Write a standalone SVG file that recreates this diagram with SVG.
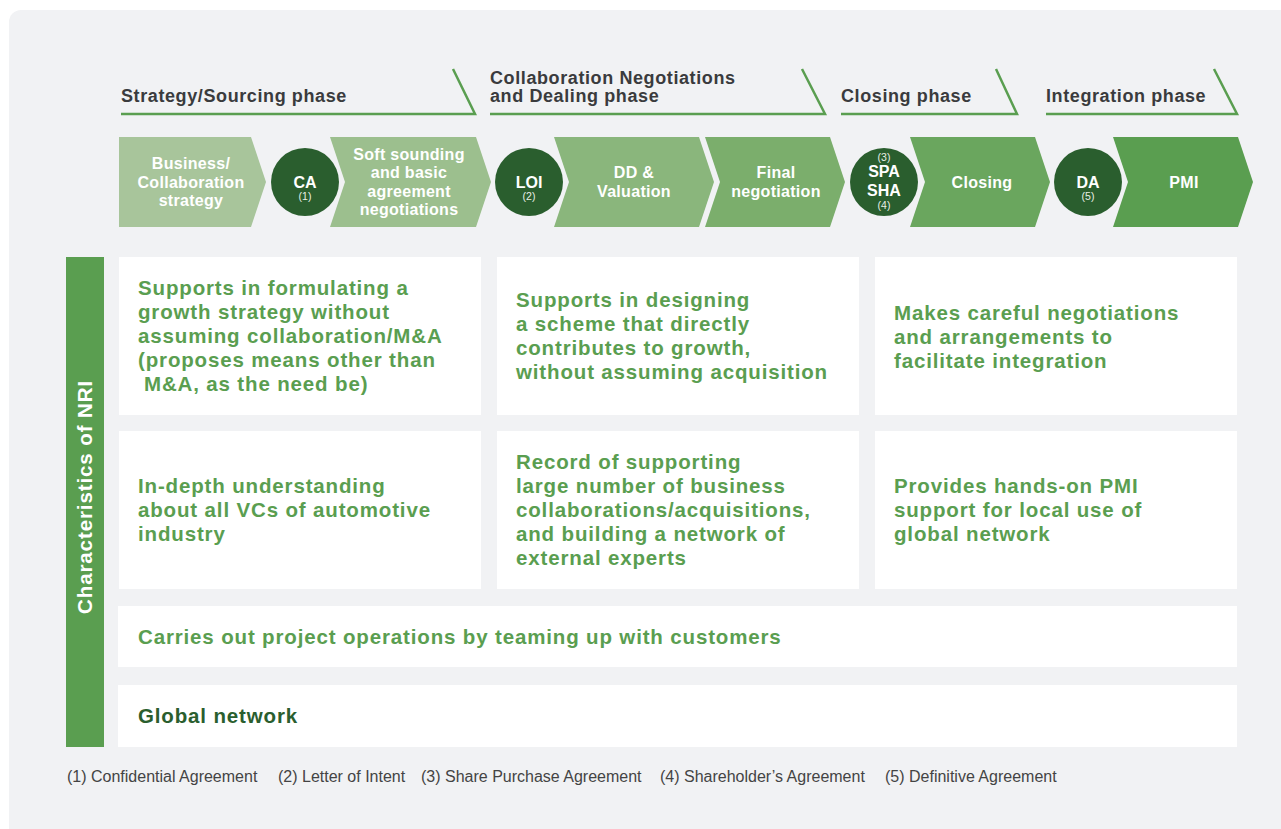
<svg xmlns="http://www.w3.org/2000/svg" width="1281" height="829" viewBox="0 0 1281 829">
<style>
.phase{font-family:"Liberation Sans",Arial,sans-serif;font-weight:bold;font-size:18px;fill:#3a3b3d;letter-spacing:0.6px}
.pline{fill:none;stroke:#5a9e50;stroke-width:2.5}
.chev{font-family:"Liberation Sans",Arial,sans-serif;font-weight:bold;font-size:16px;fill:#fff;text-anchor:middle;letter-spacing:0.3px}
.circ{fill:#2a5e2e}
.ctext{font-family:"Liberation Sans",Arial,sans-serif;font-weight:bold;font-size:16px;fill:#fff;text-anchor:middle}
.csmall{font-family:"Liberation Sans",Arial,sans-serif;font-size:10.5px;fill:#e8efe6;text-anchor:middle}
.card{fill:#fff}
.ctxt{font-family:"Liberation Sans",Arial,sans-serif;font-weight:bold;font-size:20.5px;fill:#5a9e50;letter-spacing:0.85px}
.foot{font-family:"Liberation Sans",Arial,sans-serif;font-size:16px;fill:#444}
</style>
<rect x="0" y="0" width="1281" height="829" fill="#fff"/>
<rect x="9" y="10" width="1300" height="840" rx="12" fill="#f1f2f4"/>

<g id="phases">
<g id="phase-strategy">
<polyline class="pline" points="121,114 475,114 453,69"/>
<text class="phase" x="121" y="102">Strategy/Sourcing phase</text>
</g>
<g id="phase-collab">
<polyline class="pline" points="490,114 825,114 802,69"/>
<text class="phase" x="490" y="83.5">Collaboration Negotiations</text>
<text class="phase" x="490" y="102">and Dealing phase</text>
</g>
<g id="phase-closing">
<polyline class="pline" points="841,114 1017,114 996,69"/>
<text class="phase" x="841" y="102">Closing phase</text>
</g>
<g id="phase-integration">
<polyline class="pline" points="1046,114 1237,114 1214,69"/>
<text class="phase" x="1046" y="102">Integration phase</text>
</g>
</g>

<g id="step-business">
<polygon points="119,137 251,137 266,182 251,227 119,227" fill="#a8c59b"/>
<text class="chev" x="191" y="169">Business/</text>
<text class="chev" x="191" y="188">Collaboration</text>
<text class="chev" x="191" y="206">strategy</text>
</g>
<g id="step-ca">
<circle class="circ" cx="305" cy="182" r="34"/>
<text class="ctext" x="305" y="188">CA</text>
<text class="csmall" x="305" y="200">(1)</text>
</g>
<g id="step-soft">
<polygon points="330,137 476,137 491,182 476,227 330,227 345,182" fill="#9cbf8e"/>
<text class="chev" x="409" y="160">Soft sounding</text>
<text class="chev" x="409" y="178">and basic</text>
<text class="chev" x="409" y="197">agreement</text>
<text class="chev" x="409" y="215">negotiations</text>
</g>
<g id="step-loi">
<circle class="circ" cx="529" cy="182" r="34"/>
<text class="ctext" x="529" y="188">LOI</text>
<text class="csmall" x="529" y="200">(2)</text>
</g>
<g id="step-dd">
<polygon points="554,137 699,137 714,182 699,227 554,227 569,182" fill="#8ab67c"/>
<text class="chev" x="634" y="178">DD &amp;</text>
<text class="chev" x="634" y="197">Valuation</text>
</g>
<g id="step-final">
<polygon points="705,137 830,137 845,182 830,227 705,227 720,182" fill="#7bae6c"/>
<text class="chev" x="776" y="178">Final</text>
<text class="chev" x="776" y="197">negotiation</text>
</g>
<g id="step-spa">
<circle class="circ" cx="884" cy="182" r="34"/>
<text class="csmall" x="884" y="161">(3)</text>
<text class="ctext" x="884" y="177">SPA</text>
<text class="ctext" x="884" y="196">SHA</text>
<text class="csmall" x="884" y="209">(4)</text>
</g>
<g id="step-closing">
<polygon points="910,137 1035,137 1050,182 1035,227 910,227 925,182" fill="#6aa65e"/>
<text class="chev" x="982" y="188">Closing</text>
</g>
<g id="step-da">
<circle class="circ" cx="1088" cy="182" r="34"/>
<text class="ctext" x="1088" y="188">DA</text>
<text class="csmall" x="1088" y="200">(5)</text>
</g>
<g id="step-pmi">
<polygon points="1113,137 1238,137 1253,182 1238,227 1113,227 1128,182" fill="#5a9e50"/>
<text class="chev" x="1184" y="188">PMI</text>
</g>

<g id="nri-label">
<rect x="66" y="257" width="38" height="490" fill="#5a9e50"/>
<text transform="translate(92,497) rotate(-90)" text-anchor="middle" font-family="Liberation Sans, Arial, sans-serif" font-weight="bold" font-size="20.5" fill="#fff" letter-spacing="0.9">Characteristics of NRI</text>
</g>

<g id="card-1">
<rect class="card" x="119" y="257" width="362" height="158"/>
<text class="ctxt" x="138" y="295">Supports in formulating a</text>
<text class="ctxt" x="138" y="319">growth strategy without</text>
<text class="ctxt" x="138" y="343">assuming collaboration/M&amp;A</text>
<text class="ctxt" x="138" y="367">(proposes means other than</text>
<text class="ctxt" x="144" y="391">M&amp;A, as the need be)</text>
</g>
<g id="card-2">
<rect class="card" x="497" y="257" width="362" height="158"/>
<text class="ctxt" x="516" y="307">Supports in designing</text>
<text class="ctxt" x="516" y="331">a scheme that directly</text>
<text class="ctxt" x="516" y="355">contributes to growth,</text>
<text class="ctxt" x="516" y="379">without assuming acquisition</text>
</g>
<g id="card-3">
<rect class="card" x="875" y="257" width="362" height="158"/>
<text class="ctxt" x="894" y="320">Makes careful negotiations</text>
<text class="ctxt" x="894" y="344">and arrangements to</text>
<text class="ctxt" x="894" y="368">facilitate integration</text>
</g>
<g id="card-4">
<rect class="card" x="119" y="431" width="362" height="158"/>
<text class="ctxt" x="138" y="493">In-depth understanding</text>
<text class="ctxt" x="138" y="517">about all VCs of automotive</text>
<text class="ctxt" x="138" y="541">industry</text>
</g>
<g id="card-5">
<rect class="card" x="497" y="431" width="362" height="158"/>
<text class="ctxt" x="516" y="469">Record of supporting</text>
<text class="ctxt" x="516" y="493">large number of business</text>
<text class="ctxt" x="516" y="517">collaborations/acquisitions,</text>
<text class="ctxt" x="516" y="541">and building a network of</text>
<text class="ctxt" x="516" y="565">external experts</text>
</g>
<g id="card-6">
<rect class="card" x="875" y="431" width="362" height="158"/>
<text class="ctxt" x="894" y="493">Provides hands-on PMI</text>
<text class="ctxt" x="894" y="517">support for local use of</text>
<text class="ctxt" x="894" y="541">global network</text>
</g>
<g id="card-7">
<rect class="card" x="118" y="606" width="1119" height="61"/>
<text class="ctxt" x="138" y="644">Carries out project operations by teaming up with customers</text>
</g>
<g id="card-8">
<rect class="card" x="118" y="685" width="1119" height="62"/>
<text class="ctxt" x="138" y="723" style="fill:#2a5e2e">Global network</text>
</g>

<g id="footnotes">
<text class="foot" x="67" y="782">(1) Confidential Agreement</text>
<text class="foot" x="278" y="782">(2) Letter of Intent</text>
<text class="foot" x="421" y="782">(3) Share Purchase Agreement</text>
<text class="foot" x="660" y="782">(4) Shareholder’s Agreement</text>
<text class="foot" x="885" y="782">(5) Definitive Agreement</text>
</g>
<g id="connectors"/>
</svg>
